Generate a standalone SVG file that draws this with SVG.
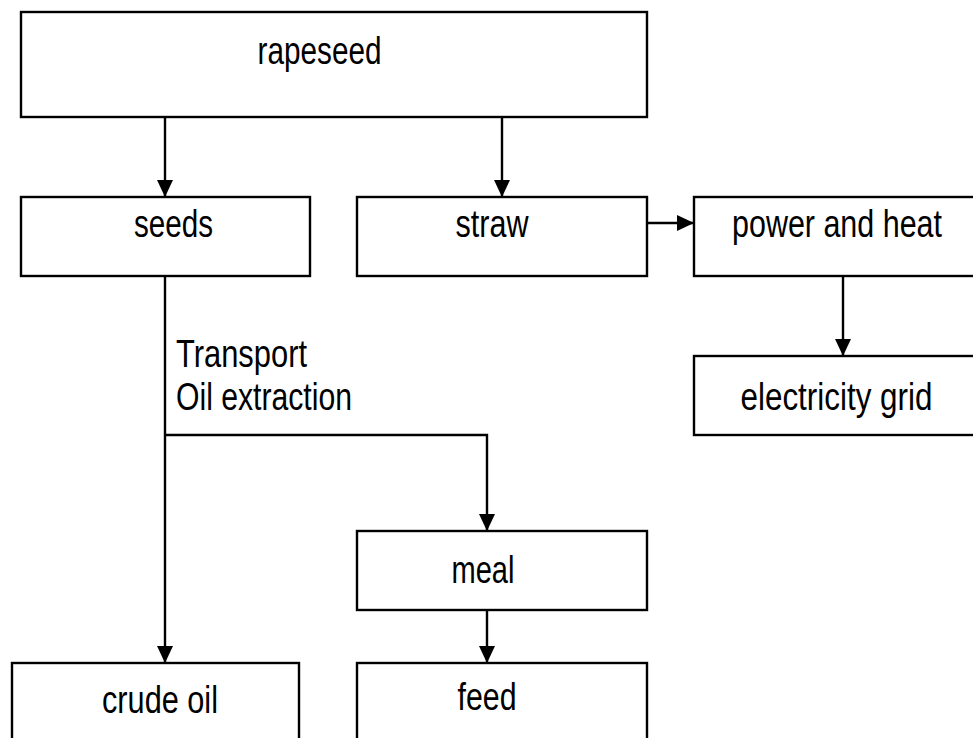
<svg xmlns="http://www.w3.org/2000/svg" width="973" height="738" viewBox="0 0 973 738">
<style>
.box{fill:#fff;stroke:#000;stroke-width:2.4}
.lbl{font-family:"Liberation Sans Narrow","Liberation Sans",Arial,sans-serif;font-size:38px;fill:#000}
.con{fill:none;stroke:#000;stroke-width:2.4}
</style>
<defs>
<marker id="ah" markerUnits="userSpaceOnUse" markerWidth="17" markerHeight="16" refX="17" refY="8" orient="auto" viewBox="0 0 17 16">
<path d="M0,0 L17,8 L0,16 z" fill="#000"/>
</marker>
</defs>
<rect width="973" height="738" fill="#fff"/>
<g id="rapeseed"><rect class="box" x="21" y="12" width="626" height="105"/><text class="lbl" x="257.5" y="64" textLength="124" lengthAdjust="spacingAndGlyphs">rapeseed</text></g>
<g id="seeds"><rect class="box" x="21" y="197" width="289" height="79"/><text class="lbl" x="134" y="237" textLength="79" lengthAdjust="spacingAndGlyphs">seeds</text></g>
<g id="straw"><rect class="box" x="357" y="197" width="290" height="79"/><text class="lbl" x="455.5" y="237" textLength="73" lengthAdjust="spacingAndGlyphs">straw</text></g>
<g id="power"><rect class="box" x="694" y="197" width="282" height="79"/><text class="lbl" x="732" y="237" textLength="210" lengthAdjust="spacingAndGlyphs">power and heat</text></g>
<g id="grid"><rect class="box" x="694" y="356" width="282" height="79"/><text class="lbl" x="740.5" y="409.5" textLength="192" lengthAdjust="spacingAndGlyphs">electricity grid</text></g>
<g id="meal"><rect class="box" x="357" y="531" width="290" height="79"/><text class="lbl" x="451.5" y="583" textLength="63" lengthAdjust="spacingAndGlyphs">meal</text></g>
<g id="crudeoil"><rect class="box" x="12" y="663" width="287" height="100"/><text class="lbl" x="102" y="712.5" textLength="116" lengthAdjust="spacingAndGlyphs">crude oil</text></g>
<g id="feed"><rect class="box" x="357" y="663" width="290" height="100"/><text class="lbl" x="457.5" y="709.5" textLength="59" lengthAdjust="spacingAndGlyphs">feed</text></g>
<g id="connectors">
<line class="con" x1="165" y1="117" x2="165" y2="197" marker-end="url(#ah)"/>
<line class="con" x1="502" y1="117" x2="502" y2="197" marker-end="url(#ah)"/>
<line class="con" x1="647" y1="223" x2="694" y2="223" marker-end="url(#ah)"/>
<line class="con" x1="843" y1="276" x2="843" y2="356" marker-end="url(#ah)"/>
<line class="con" x1="165" y1="276" x2="165" y2="663" marker-end="url(#ah)"/>
<polyline class="con" points="165,435 487,435 487,531" marker-end="url(#ah)"/>
<line class="con" x1="487" y1="610" x2="487" y2="663" marker-end="url(#ah)"/>
<text class="lbl" x="176" y="367" textLength="131" lengthAdjust="spacingAndGlyphs">Transport</text>
<text class="lbl" x="176" y="410" textLength="176" lengthAdjust="spacingAndGlyphs">Oil extraction</text>
</g>
</svg>
